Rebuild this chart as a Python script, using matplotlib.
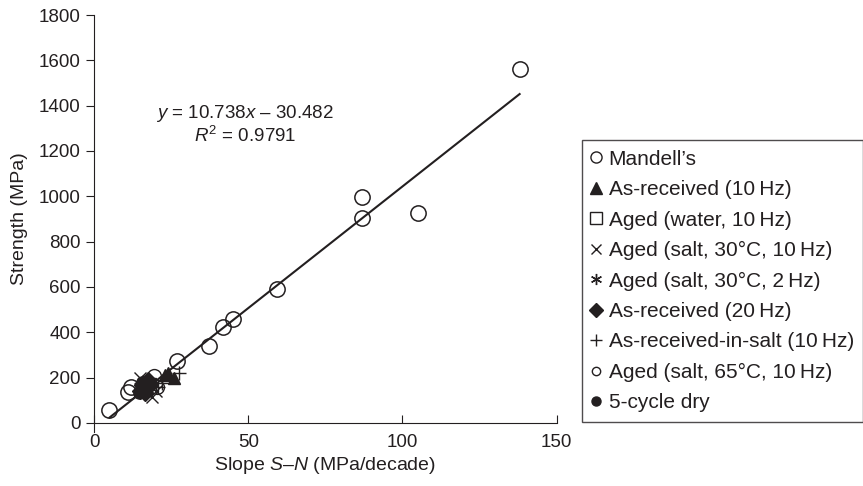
import numpy as np
import matplotlib.pyplot as plt
from matplotlib.lines import Line2D

plt.rcParams['font.family'] = ['Liberation Sans', 'DejaVu Sans']
plt.rcParams['mathtext.fontset'] = 'custom'
plt.rcParams['mathtext.rm'] = 'Liberation Sans'
plt.rcParams['mathtext.it'] = 'Liberation Sans:italic'
ink = '#231f20'

# данные
mandell_x = [5, 11, 12, 26.8, 37.3, 41.7, 44.9, 59.2, 87, 87, 105, 138]
mandell_y = [57, 138, 158, 275, 340, 422, 460, 592, 995, 906, 927, 1561]
asrec10_x = [23, 24, 26]
asrec10_y = [210, 219, 197]
water_x = [16.5, 18]
water_y = [150, 170]
salt30_10_x = [15, 18.7, 20]
salt30_10_y = [200, 115, 140]
salt30_2_x = [16, 17.5]
salt30_2_y = [185, 160]
asrec20_x = [15, 16, 17, 17.5, 18, 16.5, 15.5]
asrec20_y = [140, 155, 175, 190, 165, 130, 165]
insalt_x = [20.8, 27.5, 22]
insalt_y = [160, 218, 175]
aged65_x = [20.5, 19.5]
aged65_y = [160, 205]
dry_x = [14.5, 16, 17, 15.5]
dry_y = [130, 150, 165, 180]

# линия тренда из уравнения на графике
fit_slope = 10.738
fit_intercept = -30.482
fit_x = np.array([5, 138])

labels = ["Mandell\u2019s", 'As-received (10\u2009Hz)', 'Aged (water, 10\u2009Hz)',
          'Aged (salt, 30\u00b0C, 10\u2009Hz)', 'Aged (salt, 30\u00b0C, 2\u2009Hz)',
          'As-received (20\u2009Hz)', 'As-received-in-salt (10\u2009Hz)',
          'Aged (salt, 65\u00b0C, 10\u2009Hz)', '5-cycle dry']

fig = plt.figure(figsize=(8.63, 4.86), dpi=100)
ax = fig.add_axes([0.109, 0.130, 0.536, 0.839])

ax.plot(fit_x, fit_slope * fit_x + fit_intercept, color=ink, lw=1.5, zorder=1)

ax.plot(mandell_x, mandell_y, 'o', mfc='none', mec=ink, ms=11, mew=1.1)
ax.plot(asrec10_x, asrec10_y, '^', color=ink, ms=8)
ax.plot(water_x, water_y, 's', mfc='none', mec=ink, ms=8, mew=1)
ax.plot(salt30_10_x, salt30_10_y, 'x', color=ink, ms=9, mew=1)
ax.plot(salt30_2_x, salt30_2_y, marker=(6, 2, 0), ls='none', color=ink, ms=9, mew=1)
ax.plot(asrec20_x, asrec20_y, 'D', color=ink, ms=8)
ax.plot(insalt_x, insalt_y, '+', color=ink, ms=10, mew=1)
ax.plot(aged65_x, aged65_y, 'o', mfc='none', mec=ink, ms=10, mew=1)
ax.plot(dry_x, dry_y, 'o', color=ink, ms=8)

ax.text(49, 1367, '$y$ = 10.738$x$ \u2013 30.482', ha='center', va='center',
        fontsize=13.5, color=ink)
ax.text(49, 1266, '$R^2$ = 0.9791', ha='center', va='center', fontsize=13.5, color=ink)

ax.set_xlim(0, 150)
ax.set_ylim(0, 1800)
ax.set_xticks([0, 50, 100, 150])
ax.set_yticks(np.arange(0, 1801, 200))
ax.spines['top'].set_visible(False)
ax.spines['right'].set_visible(False)
for s in ['left', 'bottom']:
    ax.spines[s].set_color(ink)
ax.spines['left'].set_bounds(-40, 1800)
ax.tick_params(axis='x', direction='in', length=6, colors=ink, labelsize=13.5, pad=8)
ax.tick_params(axis='y', direction='out', length=6, colors=ink, labelsize=13.5)
ax.set_xlabel('Slope $S$\u2013$N$ (MPa/decade)', fontsize=14, color=ink, labelpad=3)
ax.set_ylabel('Strength (MPa)', fontsize=14, color=ink, labelpad=8)

handles = [
    Line2D([], [], ls='none', marker='o', mfc='none', mec=ink, ms=8, mew=1),
    Line2D([], [], ls='none', marker='^', color=ink, ms=8),
    Line2D([], [], ls='none', marker='s', mfc='none', mec=ink, ms=8, mew=1),
    Line2D([], [], ls='none', marker='x', color=ink, ms=7, mew=1),
    Line2D([], [], ls='none', marker=(6, 2, 0), color=ink, ms=8, mew=1),
    Line2D([], [], ls='none', marker='D', color=ink, ms=7),
    Line2D([], [], ls='none', marker='+', color=ink, ms=9, mew=1),
    Line2D([], [], ls='none', marker='o', mfc='none', mec=ink, ms=6, mew=1),
    Line2D([], [], ls='none', marker='o', color=ink, ms=6.5),
]
leg = fig.legend(handles, labels, loc='lower left', bbox_to_anchor=(0.674, 0.132),
                 fontsize=15, frameon=True, fancybox=False, handlelength=0.5,
                 handletextpad=0.35, labelspacing=0.55, borderpad=0.45,
                 borderaxespad=0, labelcolor=ink)
leg.get_frame().set_edgecolor(ink)
leg.get_frame().set_linewidth(1.0)

fig.savefig('out.png', dpi=100)
